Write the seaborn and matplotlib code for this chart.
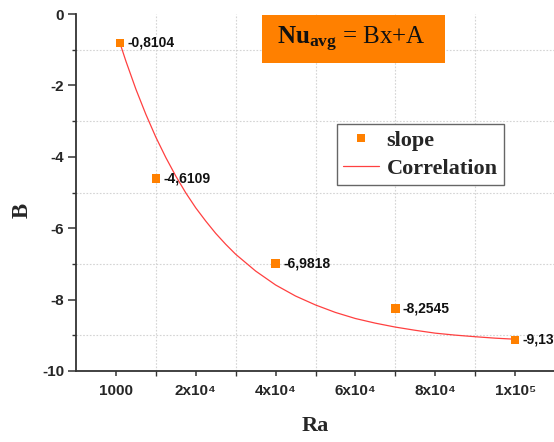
import matplotlib
matplotlib.use("Agg")
import matplotlib.pyplot as plt
import seaborn as sns
import numpy as np
import pandas as pd
from matplotlib.patches import Rectangle
from matplotlib.lines import Line2D
from matplotlib.ticker import FixedLocator

# ---- data ----
ra = [1000, 10000, 40000, 70000, 100000]
slope = [-0.8104, -4.6109, -6.9818, -8.2545, -9.13]
point_labels = ["-0,8104", "-4,6109", "-6,9818", "-8,2545", "-9,13"]

# correlation curve
corr_ra = [1000, 2500, 5000, 7500, 10000, 12500, 15000, 17500, 20000, 22500,
           25000, 27500, 30000, 35000, 40000, 45000, 50000, 55000, 60000,
           65000, 70000, 75000, 80000, 85000, 90000, 95000, 100000]
corr_b = [-0.81, -1.32, -2.105, -2.81, -3.45, -4.02, -4.54, -5.01, -5.43, -5.80,
          -6.145, -6.45, -6.73, -7.20, -7.59, -7.90, -8.15, -8.36, -8.53,
          -8.66, -8.77, -8.86, -8.94, -8.995, -9.04, -9.08, -9.11]

xtick_pos = [0, 20000, 40000, 60000, 80000, 100000]
xtick_labels = ["1000", "2x10\u2074", "4x10\u2074", "6x10\u2074", "8x10\u2074", "1x10\u2075"]
xminor_pos = [10000, 30000, 50000, 70000, 90000]
ytick_pos = [0, -2, -4, -6, -8, -10]
ytick_labels = ["0", "-2", "-4", "-6", "-8", "-10"]
yminor_pos = [-1, -3, -5, -7, -9]

# ---- style ----
sns.set_theme(style="white")
plt.rcParams["font.family"] = ["Liberation Sans", "DejaVu Sans"]
plt.rcParams["mathtext.fontset"] = "custom"
plt.rcParams["mathtext.rm"] = "Liberation Serif"
plt.rcParams["mathtext.bf"] = "Liberation Serif:bold"

ORANGE = "#ff8000"
RED = "#ff4040"

fig = plt.figure(figsize=(5.54, 4.42), dpi=100)
ax = fig.add_axes([76 / 554, 71 / 442, 479 / 554, 357 / 442])

sns.lineplot(x=corr_ra, y=corr_b, ax=ax, color=RED, linewidth=0.9,
             sort=False, estimator=None, legend=False, zorder=2)
sns.scatterplot(x=ra, y=slope, ax=ax, marker="s", s=38, color=ORANGE,
                edgecolor="none", linewidth=0, legend=False, zorder=3)

for x, y, t in zip(ra, slope, point_labels):
    ax.annotate(t, (x, y), xytext=(5.5, 0), textcoords="offset points",
                ha="left", va="center", fontsize=10, fontweight="bold",
                color="#111111", zorder=4)

ax.set_xlim(-10000, 110000)
ax.set_ylim(-10, 0)

ax.xaxis.set_major_locator(FixedLocator(xtick_pos))
ax.xaxis.set_minor_locator(FixedLocator(xminor_pos))
ax.yaxis.set_major_locator(FixedLocator(ytick_pos))
ax.yaxis.set_minor_locator(FixedLocator(yminor_pos))
ax.set_xticklabels(xtick_labels, fontweight="bold", fontsize=11)
ax.set_yticklabels(ytick_labels, fontweight="bold", fontsize=11)

ax.tick_params(axis="y", which="major", left=True, direction="out",
               length=5.5, width=1.1, color="#333333", pad=3)
ax.tick_params(axis="y", which="minor", left=True, direction="out",
               length=3, width=1.0, color="#333333")
ax.tick_params(axis="x", which="major", bottom=True, direction="out",
               length=3.5, width=1.1, color="#333333", pad=6)
ax.tick_params(axis="x", which="minor", bottom=True, direction="out",
               length=3.5, width=1.0, color="#333333")

ax.grid(False, which="major")
ax.grid(True, which="minor", color="#d4d4d4", linestyle=(0, (1.5, 1.5)),
        linewidth=0.8)
ax.set_axisbelow(True)

for s in ["top", "right"]:
    ax.spines[s].set_visible(False)
for s in ["left", "bottom"]:
    ax.spines[s].set_color("#333333")
    ax.spines[s].set_linewidth(1.3)

ax.set_xlabel("Ra", fontsize=16, family="Liberation Serif", fontweight="bold")
ax.set_ylabel("B", fontsize=16.5, family="Liberation Serif", fontweight="bold")
ax.xaxis.label.set_va("center")
ax.yaxis.label.set_va("center")
ax.xaxis.set_label_coords(0.5, -0.155)
ax.yaxis.set_label_coords(-0.113, 0.45)

# orange equation box
ax.add_patch(Rectangle((0.388, 0.863), 0.382, 0.134, transform=ax.transAxes,
                       facecolor=ORANGE, edgecolor="none", zorder=5,
                       clip_on=False))
ax.text(0.42, 0.914, r"$\mathbf{Nu_{avg}}$ = Bx+A", transform=ax.transAxes,
        fontsize=18, family="Liberation Serif", va="baseline", ha="left",
        color="#111111", zorder=6)

# legend
handles = [
    Line2D([], [], marker="s", linestyle="none", color=ORANGE,
           markersize=5.5, markeredgewidth=0),
    Line2D([], [], color=RED, linewidth=0.9),
]
leg = ax.legend(handles, ["slope", "Correlation"], loc="upper left",
                bbox_to_anchor=(0.545, 0.692), borderaxespad=0,
                prop={"family": "Liberation Serif", "weight": "bold", "size": 16},
                frameon=True, fancybox=False, framealpha=1,
                edgecolor="#666666", borderpad=0.28, handlelength=1.6,
                handletextpad=0.35, labelspacing=0.33)
leg.get_frame().set_linewidth(1.0)

fig.savefig("out.png", dpi=100)
